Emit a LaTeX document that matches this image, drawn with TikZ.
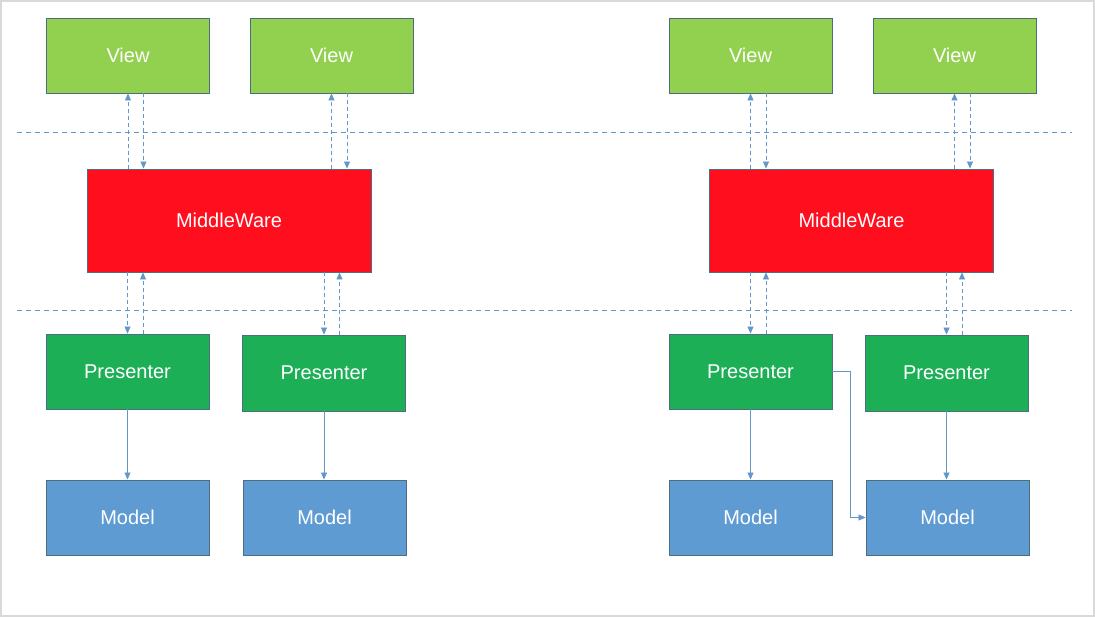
\documentclass[tikz,border=0pt]{standalone}
\usepackage{fontspec}
\setmainfont{Liberation Sans}
\usetikzlibrary{arrows.meta}
\definecolor{viewc}{HTML}{92D050}
\definecolor{mwc}{HTML}{FF0E1E}
\definecolor{presc}{HTML}{1CAF55}
\definecolor{modc}{HTML}{5E9BD3}
\definecolor{edgec}{HTML}{4E6E7E}
\definecolor{linec}{HTML}{6497C9}
\tikzset{
  box/.style={draw=edgec, line width=0.9pt, text=white, font=\fontsize{20}{22}\selectfont,
    minimum width=163pt, minimum height=75pt, inner sep=0pt, anchor=center},
  viewbox/.style={box, fill=viewc},
  mwbox/.style={box, fill=mwc, minimum width=284pt, minimum height=103pt},
  presbox/.style={box, fill=presc},
  modbox/.style={box, fill=modc},
  darr/.style={draw=linec, line width=0.8pt, dash pattern=on 4pt off 3pt, -{Triangle[length=7pt,width=6pt]}},
  sarr/.style={draw=linec, line width=0.8pt, -{Triangle[length=7pt,width=6pt]}},
  sep/.style={draw=linec, line width=0.8pt, dash pattern=on 5pt off 4pt},
}
\begin{document}
\begin{tikzpicture}[x=1pt,y=-1pt]
\useasboundingbox (0,0) rectangle (1095,617);
\draw[gray!30, line width=1.5pt] (1,1) rectangle (1094,616);
% separators
\coordinate (s1a) at (17,132); \coordinate (s1b) at (1072,132);
\coordinate (s2a) at (17,310); \coordinate (s2b) at (1072,310);
\draw[sep] (s1a) -- (s1b);
\draw[sep] (s2a) -- (s2b);
% left group
\node[viewbox] (v1) at (128,55.5) {View};
\node[viewbox] (v2) at (331.5,55.5) {View};
\node[mwbox] (mw1) at (229,220.5) {MiddleWare};
\node[presbox] (p1) at (127.5,371.5) {Presenter};
\node[presbox, minimum height=76pt] (p2) at (324,373) {Presenter};
\node[modbox] (m1) at (127.5,517.5) {Model};
\node[modbox] (m2) at (324.5,517.5) {Model};
% right group
\node[viewbox] (v3) at (750.5,55.5) {View};
\node[viewbox] (v4) at (954.5,55.5) {View};
\node[mwbox] (mw2) at (851.5,220.5) {MiddleWare};
\node[presbox] (p3) at (750.5,371.5) {Presenter};
\node[presbox, minimum height=76pt] (p4) at (946.5,373) {Presenter};
\node[modbox] (m3) at (750.5,517.5) {Model};
\node[modbox] (m4) at (947.5,517.5) {Model};
% view <-> middleware
\foreach \v/\m in {v1/mw1, v2/mw1, v3/mw2, v4/mw2}{
  \draw[darr] (\v.south |- \m.north) -- (\v.south);
  \draw[darr] ([xshift=15.5pt]\v.south) -- ([xshift=15.5pt]\v.south |- \m.north);
}
% middleware <-> presenter
\foreach \p/\m in {p1/mw1, p2/mw1, p3/mw2, p4/mw2}{
  \draw[darr] (\p.north |- \m.south) -- (\p.north);
  \draw[darr] ([xshift=15.5pt]\p.north) -- ([xshift=15.5pt]\p.north |- \m.south);
}
% presenter -> model
\foreach \p/\m in {p1/m1, p2/m2, p3/m3, p4/m4}{
  \draw[sarr] (\p.south) -- (\p.south |- \m.north);
}
\draw[sarr] (p3.east) -- ++(18,0) |- (m4.west);
\end{tikzpicture}
\end{document}
